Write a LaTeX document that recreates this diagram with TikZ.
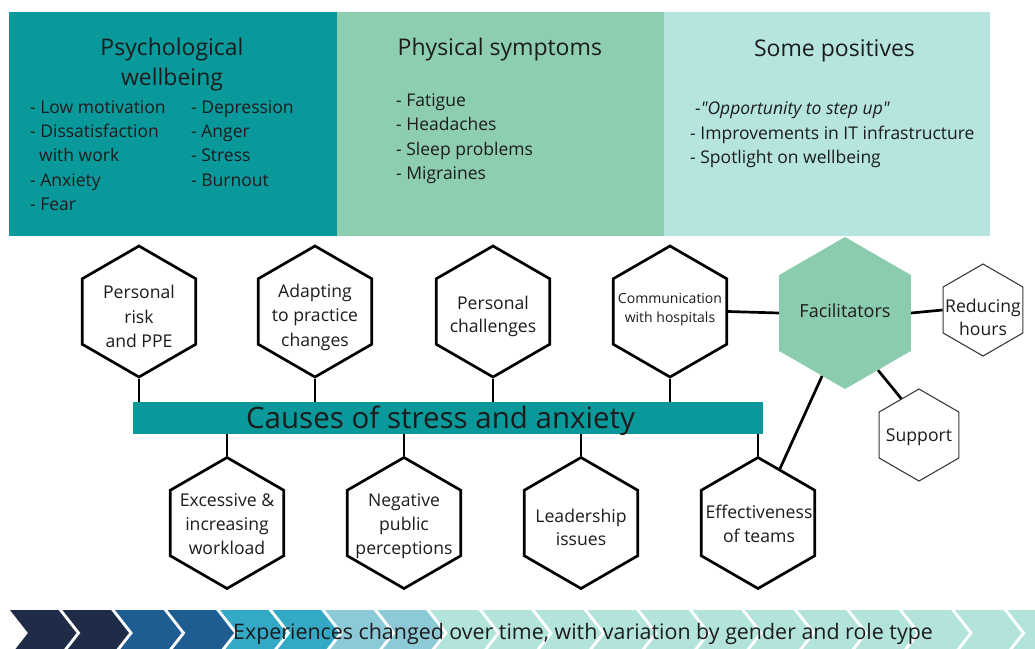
\documentclass[tikz,border=0pt]{standalone}
\usepackage{fontspec}
\setmainfont{Open Sans}
\usetikzlibrary{shapes.geometric}
\definecolor{tealA}{HTML}{0A999B}
\definecolor{greenB}{HTML}{8ECEB0}
\definecolor{mintC}{HTML}{B5E5DE}
\definecolor{facfill}{HTML}{8CCCAE}
\definecolor{txt}{HTML}{1C1C1C}
\definecolor{chevA}{HTML}{1F2C47}
\definecolor{chevB}{HTML}{1E5D92}
\definecolor{chevC}{HTML}{33A9C5}
\definecolor{chevD}{HTML}{8CCAD8}
\definecolor{chevE}{HTML}{B3E4DC}
\definecolor{thin}{HTML}{3A3A3A}
\begin{document}
\begin{tikzpicture}[x=1pt,y=-1pt,
  panelbox/.style={draw=none,inner sep=0,anchor=north west,minimum height=224},
  ptitle/.style={text=txt,inner sep=0,anchor=base,font=\fontsize{23}{28}\selectfont},
  pitem/.style={text=txt,inner sep=0,anchor=base west,font=\fontsize{17.5}{21}\selectfont},
  hexb/.style={regular polygon,regular polygon sides=6,shape border rotate=30,
    draw=black,line width=2.7pt,fill=white,inner sep=0,minimum size=131},
  hexs/.style={regular polygon,regular polygon sides=6,shape border rotate=30,
    draw=thin,line width=1.1pt,fill=white,inner sep=0,minimum size=92},
  hexf/.style={regular polygon,regular polygon sides=6,shape border rotate=30,
    draw=none,fill=facfill,inner sep=0,minimum size=152},
  hlab/.style={text=txt,inner sep=0,align=center,font=\fontsize{17.6}{24.6}\selectfont},
  conn/.style={draw=black,line width=2.7pt}
]
\useasboundingbox (0,0) rectangle (1035,648);

% top panels
\node[panelbox,fill=tealA,minimum width=328] (p1) at (9,12) {};
\node[panelbox,fill=greenB,minimum width=327] (p2) at (337,12) {};
\node[panelbox,fill=mintC,minimum width=326] (p3) at (664,12) {};

\node[ptitle] (p1t1) at (172,55) {Psychological};
\node[ptitle] (p1t2) at (172,85) {wellbeing};
\node[pitem] (p1a) at (30,113) {- Low motivation};
\node[pitem] (p1b) at (30,137.5) {- Dissatisfaction};
\node[pitem] (p1c) at (39,161.5) {with work};
\node[pitem] (p1d) at (30,186) {- Anxiety};
\node[pitem] (p1e) at (30,210) {- Fear};
\node[pitem] (p1f) at (191,113) {- Depression};
\node[pitem] (p1g) at (191,137.5) {- Anger};
\node[pitem] (p1h) at (191,161.5) {- Stress};
\node[pitem] (p1i) at (191,186) {- Burnout};

\node[ptitle,anchor=base west] (p2t) at (397.5,55) {Physical symptoms};
\node[pitem] (p2a) at (396,106) {- Fatigue};
\node[pitem] (p2b) at (396,130.5) {- Headaches};
\node[pitem] (p2c) at (396,155) {- Sleep problems};
\node[pitem] (p2d) at (396,179.5) {- Migraines};

\node[ptitle] (p3t) at (834.5,56) {Some positives};
\node[pitem] (p3a) at (695,114.5) {-\textit{\textquotedbl Opportunity to step up\textquotedbl}};
\node[pitem] (p3b) at (690,139) {- Improvements in IT infrastructure};
\node[pitem] (p3c) at (690,163.5) {- Spotlight on wellbeing};

% central bar
\node[fill=tealA,inner sep=0,anchor=north west,minimum width=630,minimum height=32] (bar) at (133,402) {};
\node[text=txt,inner sep=0,anchor=base,font=\fontsize{29.5}{34}\selectfont] (barT) at (440.5,428) {Causes of stress and anxiety};

% hexagons top row
\node[hexb] (h1) at (139,311.5) {};
\node[hexb] (h2) at (315,311.5) {};
\node[hexb] (h3) at (493,311.5) {};
\node[hexb] (h4) at (670,311.5) {};
% bottom row
\node[hexb] (b1) at (227,523) {};
\node[hexb] (b2) at (404,523) {};
\node[hexb] (b3) at (581,523) {};
\node[hexb] (b4) at (758,523) {};
% facilitators
\node[hexf] (fac) at (845,313) {};
\node[hexs] (red) at (983,310) {};
\node[hexs] (sup) at (919,435) {};

% connectors
\draw[conn] (h1.270) -- (h1.270 |- bar.north);
\draw[conn] (h2.270) -- (h2.270 |- bar.north);
\draw[conn] (h3.270) -- (h3.270 |- bar.north);
\draw[conn] (h4.270) -- (h4.270 |- bar.north);
\draw[conn] (b1.90 |- bar.south) -- (b1.90);
\draw[conn] (b2.90 |- bar.south) -- (b2.90);
\draw[conn] (b3.90 |- bar.south) -- (b3.90);
\draw[conn] (b4.90 |- bar.south) -- (b4.90);
\draw[conn] (h4.0) -- (fac.180);
\draw[conn] (fac.0) -- (red.180);
\draw[conn] (fac.300) -- (sup.116);
\draw[conn] (fac.250) -- (b4.68);

% hexagon labels
\node[hlab] (h1l) at (139,316.4) {Personal\\risk\\and PPE};
\node[hlab] (h2l) at (315,317.4) {Adapting\\to practice\\changes};
\node[hlab,font=\fontsize{17.6}{23}\selectfont] (h3l) at (493,316.1) {Personal\\challenges};
\node[hlab,font=\fontsize{14}{18.7}\selectfont] (h4l) at (670,309.8) {Communication\\with hospitals};
\node[hlab,font=\fontsize{17.6}{24}\selectfont] (b1l) at (227,523.8) {Excessive \&\\increasing\\workload};
\node[hlab,font=\fontsize{17.6}{24}\selectfont] (b2l) at (404,525.8) {Negative\\public\\perceptions};
\node[hlab,font=\fontsize{17.6}{23}\selectfont] (b3l) at (581,527) {Leadership\\issues};
\node[hlab,font=\fontsize{17.6}{24}\selectfont] (b4l) at (759,523.5) {Effectiveness\\of teams};
\node[hlab,font=\fontsize{18}{24}\selectfont] (facl) at (845,310.5) {Facilitators};
\node[hlab,font=\fontsize{17.6}{23}\selectfont] (redl) at (983,317) {Reducing\\hours};
\node[hlab] (supl) at (919,437) {Support};

% bottom chevron band
\begin{scope}
\clip (0,0) rectangle (1035,648);
\foreach \i in {0,...,19}{
  \pgfmathsetmacro{\xa}{10+52.5*\i}
  \ifnum\i<2 \def\cc{chevA}\else\ifnum\i<4 \def\cc{chevB}\else\ifnum\i<6 \def\cc{chevC}\else\ifnum\i<8 \def\cc{chevD}\else\def\cc{chevE}\fi\fi\fi\fi
  \fill[\cc] (\xa,610) -- ++(48.5,0) -- ++(18,23) -- ++(-18,23) -- ++(-48.5,0) -- ++(18,-23) -- cycle;
}
\end{scope}
\node[text=txt,inner sep=0,anchor=base west,font=\fontsize{21.4}{25}\selectfont] (band) at (233,639) {Experiences changed over time, with variation by gender and role type};
\end{tikzpicture}
\end{document}
